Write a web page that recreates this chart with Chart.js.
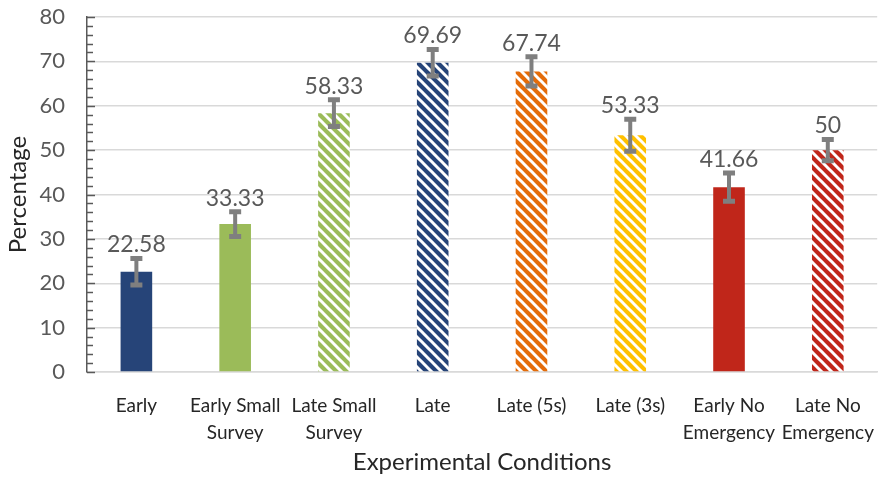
<!DOCTYPE html>
<html>
<head>
<meta charset="utf-8">
<script src="https://cdn.jsdelivr.net/npm/chart.js@4/dist/chart.umd.min.js"></script>
<style>
  html, body { margin: 0; padding: 0; background: #fff; }
  #wrap { width: 886px; height: 477px; }
</style>
</head>
<body>
<div id="wrap"><canvas id="chart" width="886" height="477"></canvas></div>
<script>
const categories = [
  'Early', ['Early Small', 'Survey'], ['Late Small', 'Survey'], 'Late',
  'Late (5s)', 'Late (3s)', ['Early No', 'Emergency'], ['Late No', 'Emergency']
];
const values = [22.58, 33.33, 58.33, 69.69, 67.74, 53.33, 41.66, 50];
const errors = [3.0, 2.8, 3.0, 3.0, 3.3, 3.6, 3.2, 2.4];
const baseColors = ['#264478', '#9bbb59', '#9bbb59', '#264478', '#e46c0a', '#ffc000', '#c0261a', '#c0261a'];
const striped = [false, false, true, true, true, true, false, true];

const FONT = 'Lato, "Open Sans", sans-serif';

function stripePattern(color) {
  const s = 10;
  const c = document.createElement('canvas');
  c.width = s; c.height = s;
  const g = c.getContext('2d');
  g.fillStyle = color;
  g.fillRect(0, 0, s, s);
  g.strokeStyle = '#ffffff';
  g.lineWidth = 3;
  for (const k of [-s, 0, s]) {
    g.beginPath();
    g.moveTo(k - 2, -2);
    g.lineTo(k + s + 2, s + 2);
    g.stroke();
  }
  return g.createPattern(c, 'repeat');
}

const fills = baseColors.map((c, i) => striped[i] ? stripePattern(c) : c);

// inward tick marks on the value axis (every 2, major every 10)
const innerTicks = {
  id: 'innerTicks',
  beforeDatasetsDraw(chart) {
    const ctx = chart.ctx;
    const y = chart.scales.y;
    const left = chart.chartArea.left;
    ctx.save();
    ctx.strokeStyle = '#595959';
    ctx.lineWidth = 1.5;
    for (let v = 0; v <= 80; v += 2) {
      const py = Math.round(y.getPixelForValue(v)) + 0.5;
      const len = v % 10 === 0 ? 8 : 6;
      ctx.beginPath();
      ctx.moveTo(left, py);
      ctx.lineTo(left + len, py);
      ctx.stroke();
    }
    ctx.restore();
  }
};

// error bars + value labels above them
const errorBarPlugin = {
  id: 'errorBars',
  afterDatasetsDraw(chart) {
    const ctx = chart.ctx;
    const meta = chart.getDatasetMeta(0);
    const y = chart.scales.y;
    ctx.save();
    meta.data.forEach((bar, i) => {
      const x = bar.x;
      const top = y.getPixelForValue(values[i] + errors[i]);
      const bot = y.getPixelForValue(values[i] - errors[i]);
      ctx.strokeStyle = '#7f7f7f';
      ctx.lineWidth = 4;
      ctx.beginPath();
      ctx.moveTo(x, top); ctx.lineTo(x, bot);
      ctx.stroke();
      ctx.lineWidth = 5;
      ctx.beginPath();
      ctx.moveTo(x - 6, top); ctx.lineTo(x + 6, top);
      ctx.moveTo(x - 6, bot); ctx.lineTo(x + 6, bot);
      ctx.stroke();
      ctx.fillStyle = '#595959';
      ctx.font = '23px ' + FONT;
      ctx.textAlign = 'center';
      ctx.textBaseline = 'bottom';
      ctx.fillText(String(values[i]), x, top - 2);
    });
    ctx.restore();
  }
};

new Chart(document.getElementById('chart'), {
  type: 'bar',
  data: {
    labels: categories,
    datasets: [{
      data: values,
      backgroundColor: fills,
      borderWidth: 0,
      categoryPercentage: 1,
      barPercentage: 0.32
    }]
  },
  options: {
    responsive: false,
    animation: false,
    layout: { padding: { top: 17, right: 1, left: 0, bottom: 0 } },
    plugins: {
      legend: { display: false },
      tooltip: { enabled: false }
    },
    scales: {
      x: {
        grid: { display: false },
        border: { color: '#d9d9d9', width: 1.5 },
        ticks: {
          color: '#262626',
          font: { family: FONT, size: 19, lineHeight: 1.42 },
          maxRotation: 0,
          autoSkip: false,
          padding: 12
        },
        title: {
          display: true,
          text: 'Experimental Conditions',
          color: '#262626',
          font: { family: FONT, size: 24 },
          padding: { top: 0, bottom: 0 }
        },
        afterFit(scale) { scale.height = 105; }
      },
      y: {
        min: 0,
        max: 80,
        ticks: {
          stepSize: 10,
          color: '#595959',
          font: { family: FONT, size: 22 },
          padding: 22
        },
        grid: {
          color: '#d9d9d9',
          lineWidth: 1.5,
          drawTicks: false
        },
        border: { color: '#595959', width: 1.5 },
        title: {
          display: true,
          text: 'Percentage',
          color: '#262626',
          font: { family: FONT, size: 24 },
          padding: { bottom: 0 }
        },
        afterFit(scale) {
          scale.width = 87;
          scale.paddingTop = 0;
          scale.paddingBottom = 0;
        }
      }
    }
  },
  plugins: [innerTicks, errorBarPlugin]
});
</script>
</body>
</html>
